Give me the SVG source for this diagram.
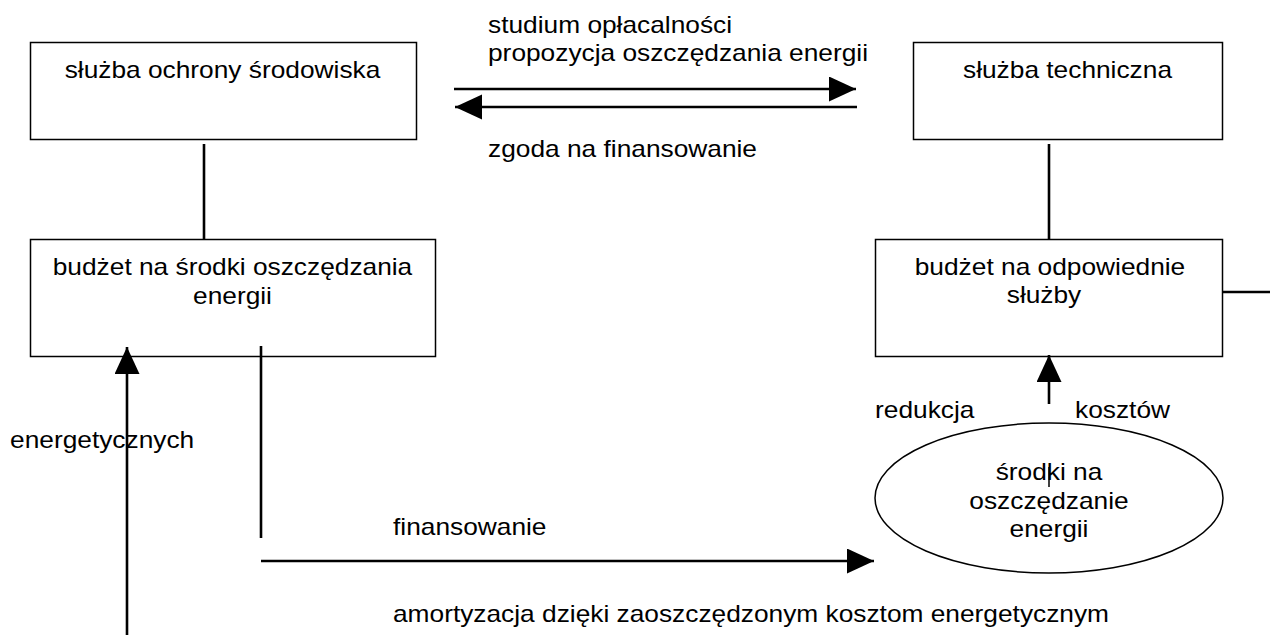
<svg xmlns="http://www.w3.org/2000/svg" width="1270" height="644" viewBox="0 0 1270 644">
<style>
text{font-family:"Liberation Sans",Arial,sans-serif;font-size:24px;fill:#000}
.c{text-anchor:middle}
.box{fill:#fff;stroke:#000;stroke-width:1.5}
.ln{stroke:#000;stroke-width:2.6;fill:none}
</style>
<defs>
<marker id="ah" markerUnits="userSpaceOnUse" markerWidth="28" markerHeight="26" refX="27" refY="12.5" orient="auto">
<path d="M0,0 L27,12.5 L0,25 Z" fill="#000"/>
</marker>
</defs>
<rect width="1270" height="644" fill="#fff"/>
<g id="n-ochrona">
<rect class="box" x="30.5" y="42.5" width="386" height="97"/>
<text class="c" x="222.5" y="78" textLength="315.7" lengthAdjust="spacingAndGlyphs">służba ochrony środowiska</text>
</g>
<g id="n-techniczna">
<rect class="box" x="913.5" y="42.5" width="309" height="97"/>
<text x="963" y="78" textLength="209" lengthAdjust="spacingAndGlyphs">służba techniczna</text>
</g>
<g id="n-budzet-oszcz">
<rect class="box" x="30.5" y="239.5" width="405" height="117"/>
<text class="c" x="232.5" y="275" textLength="359.5" lengthAdjust="spacingAndGlyphs">budżet na środki oszczędzania</text>
<text class="c" x="232.5" y="304" textLength="78.9" lengthAdjust="spacingAndGlyphs">energii</text>
</g>
<g id="n-budzet-sluzby">
<rect class="box" x="875.5" y="239.5" width="347" height="117"/>
<text class="c" x="1050" y="275" textLength="270.5" lengthAdjust="spacingAndGlyphs">budżet na odpowiednie</text>
<text class="c" x="1044" y="303" textLength="74.5" lengthAdjust="spacingAndGlyphs">służby</text>
</g>
<g id="n-srodki">
<ellipse cx="1049" cy="498" rx="174" ry="75" fill="#fff" stroke="#000" stroke-width="1.5"/>
<text class="c" x="1049" y="480" textLength="106.7" lengthAdjust="spacingAndGlyphs">środki na</text>
<text class="c" x="1049" y="509" textLength="159.3" lengthAdjust="spacingAndGlyphs">oszczędzanie</text>
<text class="c" x="1049" y="537" textLength="78.9" lengthAdjust="spacingAndGlyphs">energii</text>
</g>
<g id="connectors">
<line class="ln" x1="454" y1="89" x2="856" y2="89" marker-end="url(#ah)"/>
<line class="ln" x1="857" y1="107" x2="455" y2="107" marker-end="url(#ah)"/>
<line class="ln" x1="204" y1="144" x2="204" y2="240"/>
<line class="ln" x1="1049" y1="144" x2="1049" y2="240"/>
<line class="ln" x1="261" y1="346" x2="261" y2="538"/>
<line class="ln" x1="261" y1="561" x2="874" y2="561" marker-end="url(#ah)"/>
<line class="ln" x1="127" y1="635" x2="127" y2="347" marker-end="url(#ah)"/>
<line class="ln" x1="1049" y1="404" x2="1049" y2="355" marker-end="url(#ah)"/>
<line class="ln" x1="1222" y1="292" x2="1270" y2="292"/>
<line x1="1049" y1="467" x2="1049" y2="487" stroke="#000" stroke-width="1.5"/>
</g>
<g id="labels">
<text x="488" y="33" textLength="244.1" lengthAdjust="spacingAndGlyphs">studium opłacalności</text>
<text x="488" y="61" textLength="380" lengthAdjust="spacingAndGlyphs">propozycja oszczędzania energii</text>
<text x="488" y="157" textLength="269" lengthAdjust="spacingAndGlyphs">zgoda na finansowanie</text>
<text x="10" y="448" textLength="184.2" lengthAdjust="spacingAndGlyphs">energetycznych</text>
<text x="875" y="418" textLength="99.4" lengthAdjust="spacingAndGlyphs">redukcja</text>
<text x="1075" y="418" textLength="95" lengthAdjust="spacingAndGlyphs">kosztów</text>
<text x="393" y="535" textLength="153.5" lengthAdjust="spacingAndGlyphs">finansowanie</text>
<text x="393" y="622" textLength="716" lengthAdjust="spacingAndGlyphs">amortyzacja dzięki zaoszczędzonym kosztom energetycznym</text>
</g>
</svg>
